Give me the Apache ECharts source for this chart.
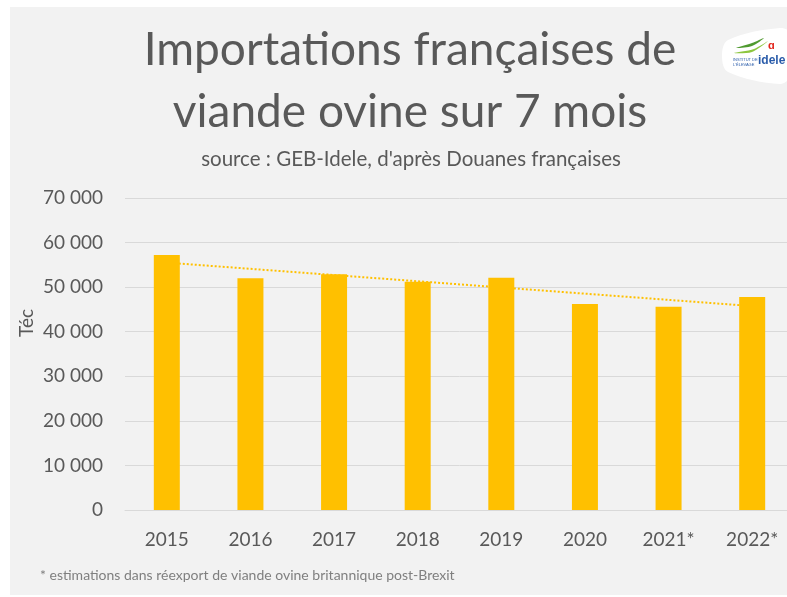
<!DOCTYPE html>
<html>
<head>
<meta charset="utf-8">
<script src="https://cdn.jsdelivr.net/npm/echarts@6/dist/echarts.min.js"></script>
<style>
  html, body { margin: 0; padding: 0; background: #ffffff; overflow: hidden; }
  /* le graphique d'origine est rogné à droite : zone un peu plus large que la fenêtre */
  #chart { width: 794px; height: 597px; }
</style>
</head>
<body>
<div id="chart"></div>
<script>
// données (tonnes équivalent carcasse)
const years = ['2015', '2016', '2017', '2018', '2019', '2020', '2021*', '2022*']
const imports = [57200, 52000, 52900, 51200, 52100, 46200, 45600, 47800]
const yTicks = [0, 10000, 20000, 30000, 40000, 50000, 60000, 70000]

// courbe de tendance linéaire (moindres carrés) sur les valeurs
const n = imports.length
const mx = (n - 1) / 2
const my = imports.reduce((a, b) => a + b, 0) / n
let sxy = 0
let sxx = 0
imports.forEach((v, i) => {
  sxy += (i - mx) * (v - my)
  sxx += (i - mx) * (i - mx)
})
const slope = sxy / sxx
const trend = imports.map((v, i) => my + slope * (i - mx))

const fmt = v => String(v).replace(/\B(?=(\d{3})+(?!\d))/g, ' ')

const chart = echarts.init(document.getElementById('chart'))

chart.setOption({
  backgroundColor: '#ffffff',
  animation: false,
  textStyle: { fontFamily: 'Lato' },
  graphic: [
    {
      type: 'rect',
      shape: { x: 10, y: 7, width: 790, height: 588 },
      style: { fill: '#f2f2f2' },
      z: -10
    },
    {
      // logo Idele
      type: 'group',
      x: 714,
      y: 26,
      children: [
        {
          type: 'polygon',
          shape: {
            points: [[8, 30], [14, 14], [66, 2], [77, 8], [76, 50], [66, 58], [14, 46]],
            smooth: 0.35
          },
          style: { fill: '#ffffff' }
        },
        {
          type: 'polygon',
          shape: { points: [[20, 27], [38, 26], [54, 15], [40, 23]], smooth: 0.3 },
          style: { fill: '#8dc63f' }
        },
        {
          type: 'polygon',
          shape: { points: [[22, 22], [38, 20], [50, 12], [38, 17]], smooth: 0.3 },
          style: { fill: '#4f9a2f' }
        },
        {
          type: 'text',
          x: 54,
          y: 14,
          style: { text: 'ɑ', fill: '#e2231a', fontSize: 11, fontWeight: 'bold' }
        },
        {
          type: 'text',
          x: 19,
          y: 31,
          style: { text: 'INSTITUT DE\nL\'ÉLEVAGE', fill: '#2a5caa', fontSize: 4, lineHeight: 5 }
        },
        {
          type: 'text',
          x: 44,
          y: 29,
          style: { text: 'idele', fill: '#2a5caa', fontSize: 12, fontWeight: 'bold', fontFamily: 'Liberation Sans' }
        }
      ]
    },
    {
      // titre de l'axe vertical
      type: 'text',
      x: 27,
      y: 323,
      rotation: Math.PI / 2,
      style: {
        text: 'Téc',
        fill: '#595959',
        fontSize: 19,
        fontFamily: 'Lato',
        align: 'center',
        verticalAlign: 'middle'
      }
    },
    {
      type: 'text',
      x: 40,
      y: 568,
      style: {
        text: '* estimations dans réexport de viande ovine britannique post-Brexit',
        fill: '#7f7f7f',
        fontSize: 14,
        fontFamily: 'Lato'
      }
    }
  ],
  title: [
    {
      text: 'Importations françaises de\nviande ovine sur 7 mois',
      left: 405,
      textAlign: 'center',
      top: 14,
      textStyle: {
        color: '#595959',
        fontSize: 46,
        fontWeight: 'normal',
        lineHeight: 62,
        fontFamily: 'Lato'
      }
    },
    {
      text: "source : GEB-Idele, d'après Douanes françaises",
      left: 406,
      textAlign: 'center',
      top: 144,
      textStyle: {
        color: '#595959',
        fontSize: 20.5,
        fontWeight: 'normal',
        fontFamily: 'Lato'
      }
    }
  ],
  grid: {
    left: 125,
    right: 0,
    top: 198,
    bottom: 87,
    containLabel: false
  },
  xAxis: {
    type: 'category',
    data: years,
    axisLine: { lineStyle: { color: '#d9d9d9', width: 1 } },
    axisTick: { show: false },
    axisLabel: { color: '#595959', fontSize: 19, margin: 20 }
  },
  yAxis: {
    type: 'value',
    min: yTicks[0],
    max: yTicks[yTicks.length - 1],
    interval: 10000,
    axisLine: { show: false },
    axisTick: { show: false },
    axisLabel: {
      color: '#595959',
      fontSize: 19,
      margin: 22,
      formatter: v => fmt(v)
    },
    splitLine: { lineStyle: { color: '#d9d9d9', width: 1 } }
  },
  series: [
    {
      name: 'Tendance',
      type: 'line',
      data: trend,
      symbol: 'none',
      z: 1,
      lineStyle: { color: '#ffc000', width: 2, type: [2, 2] }
    },
    {
      name: 'Importations',
      type: 'bar',
      data: imports,
      barWidth: 26,
      z: 2,
      itemStyle: { color: '#ffc000' }
    }
  ]
})
</script>
</body>
</html>
